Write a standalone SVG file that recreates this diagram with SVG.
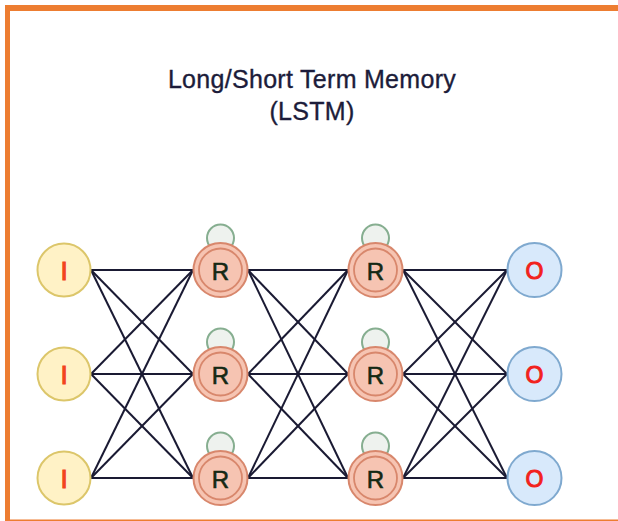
<svg xmlns="http://www.w3.org/2000/svg" width="618" height="521" viewBox="0 0 618 521">
<style>
.t{font-family:"Liberation Sans",Arial,sans-serif;fill:#1c1c3a;stroke:#1c1c3a;stroke-width:0.35;text-anchor:middle;letter-spacing:0.3px}
.lbl{font-family:"Liberation Sans",Arial,sans-serif;text-anchor:middle;dominant-baseline:central}
.li{font-size:26px;fill:#f2441c;stroke:#f2441c;stroke-width:1}
.lr{font-size:24px;fill:#142814;stroke:#142814;stroke-width:0.6}
.lo{font-size:23px;fill:#f2221c;stroke:#f2221c;stroke-width:1}
.in{fill:#fff2c6;stroke:#dcc66a;stroke-width:2}
.rec{fill:#f6c4b2;stroke:#d8876c;stroke-width:2}
.ring{fill:none;stroke:#d8876c;stroke-width:1.8}
.loop{fill:#eef2ee;stroke:#86ae90;stroke-width:2}
.out{fill:#d8e9fb;stroke:#7fa9cf;stroke-width:2}
#connectors line{stroke:#1a1a33;stroke-width:2}
</style>
<rect x="0" y="0" width="618" height="521" fill="#ffffff"/>
<g id="frame" fill="#ed7d31">
<rect x="5" y="5" width="613" height="6"/>
<rect x="5" y="5" width="5" height="516"/>
<rect x="5" y="519.5" width="613" height="1.5"/>
</g>
<g id="title">
<text class="t" x="312" y="88" font-size="25">Long/Short Term Memory</text>
<text class="t" x="312" y="120" font-size="25">(LSTM)</text>
</g>
<g id="connectors">
<line x1="91" y1="270" x2="193" y2="270"/><line x1="91" y1="270" x2="193" y2="374"/><line x1="91" y1="270" x2="193" y2="478"/>
<line x1="91" y1="374" x2="193" y2="270"/><line x1="91" y1="374" x2="193" y2="374"/><line x1="91" y1="374" x2="193" y2="478"/>
<line x1="91" y1="478" x2="193" y2="270"/><line x1="91" y1="478" x2="193" y2="374"/><line x1="91" y1="478" x2="193" y2="478"/>
<line x1="248" y1="270" x2="348" y2="270"/><line x1="248" y1="270" x2="348" y2="374"/><line x1="248" y1="270" x2="348" y2="478"/>
<line x1="248" y1="374" x2="348" y2="270"/><line x1="248" y1="374" x2="348" y2="374"/><line x1="248" y1="374" x2="348" y2="478"/>
<line x1="248" y1="478" x2="348" y2="270"/><line x1="248" y1="478" x2="348" y2="374"/><line x1="248" y1="478" x2="348" y2="478"/>
<line x1="403" y1="270" x2="507" y2="270"/><line x1="403" y1="270" x2="507" y2="374"/><line x1="403" y1="270" x2="507" y2="478"/>
<line x1="403" y1="374" x2="507" y2="270"/><line x1="403" y1="374" x2="507" y2="374"/><line x1="403" y1="374" x2="507" y2="478"/>
<line x1="403" y1="478" x2="507" y2="270"/><line x1="403" y1="478" x2="507" y2="374"/><line x1="403" y1="478" x2="507" y2="478"/>
</g>
<g id="i1"><circle class="in" cx="64" cy="270" r="26.5"/><text class="lbl li" x="64" y="271">I</text></g>
<g id="i2"><circle class="in" cx="64" cy="374" r="26.5"/><text class="lbl li" x="64" y="375">I</text></g>
<g id="i3"><circle class="in" cx="64" cy="478" r="26.5"/><text class="lbl li" x="64" y="479">I</text></g>
<g id="r1a"><circle class="loop" cx="220.5" cy="238" r="13.5"/><circle class="rec" cx="220.5" cy="270" r="27"/><circle class="ring" cx="220.5" cy="270" r="21.5"/><text class="lbl lr" x="220.5" y="271">R</text></g>
<g id="r1b"><circle class="loop" cx="220.5" cy="342" r="13.5"/><circle class="rec" cx="220.5" cy="374" r="27"/><circle class="ring" cx="220.5" cy="374" r="21.5"/><text class="lbl lr" x="220.5" y="375">R</text></g>
<g id="r1c"><circle class="loop" cx="220.5" cy="446" r="13.5"/><circle class="rec" cx="220.5" cy="478" r="27"/><circle class="ring" cx="220.5" cy="478" r="21.5"/><text class="lbl lr" x="220.5" y="479">R</text></g>
<g id="r2a"><circle class="loop" cx="375.5" cy="238" r="13.5"/><circle class="rec" cx="375.5" cy="270" r="27"/><circle class="ring" cx="375.5" cy="270" r="21.5"/><text class="lbl lr" x="375.5" y="271">R</text></g>
<g id="r2b"><circle class="loop" cx="375.5" cy="342" r="13.5"/><circle class="rec" cx="375.5" cy="374" r="27"/><circle class="ring" cx="375.5" cy="374" r="21.5"/><text class="lbl lr" x="375.5" y="375">R</text></g>
<g id="r2c"><circle class="loop" cx="375.5" cy="446" r="13.5"/><circle class="rec" cx="375.5" cy="478" r="27"/><circle class="ring" cx="375.5" cy="478" r="21.5"/><text class="lbl lr" x="375.5" y="479">R</text></g>
<g id="o1"><circle class="out" cx="534.5" cy="270" r="27"/><text class="lbl lo" x="534.5" y="271">O</text></g>
<g id="o2"><circle class="out" cx="534.5" cy="374" r="27"/><text class="lbl lo" x="534.5" y="375">O</text></g>
<g id="o3"><circle class="out" cx="534.5" cy="478" r="27"/><text class="lbl lo" x="534.5" y="479">O</text></g>
</svg>
